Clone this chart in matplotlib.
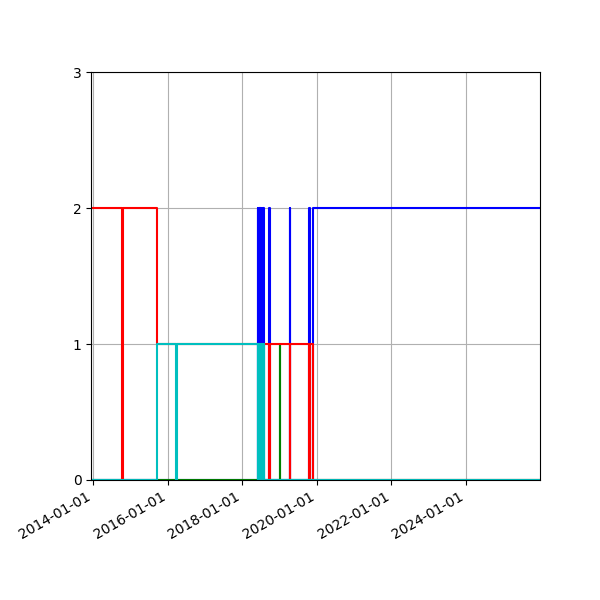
import pandas as pd
import matplotlib
matplotlib.use("Agg")
import matplotlib.pyplot as plt
import matplotlib.dates as mdates

# state series (step changes)
block_dates = ["2018-06-02", "2018-06-06", "2018-06-10", "2018-06-14", "2018-06-18", "2018-06-22",
               "2018-06-26", "2018-06-30", "2018-07-04", "2018-07-08", "2018-07-12", "2018-07-16",
               "2018-07-20", "2018-07-24", "2018-07-27", "2018-07-31"]

blue_dates = ["2013-12-15"] + block_dates + ["2018-09-21", "2018-09-27", "2019-04-14", "2019-04-16",
                                             "2019-10-20", "2019-10-22", "2019-11-22", "2025-12-25"]
blue_vals = [0] + [2, 0] * 8 + [2, 0, 2, 0, 2, 0, 2, 2]

green_dates = ["2013-12-15", "2019-01-05", "2019-01-09", "2025-12-25"]
green_vals = [0, 1, 0, 0]

red_dates = ["2013-12-15", "2014-10-16", "2014-10-26", "2015-09-22", "2018-09-17", "2018-09-30",
             "2019-04-14", "2019-04-16", "2019-10-20", "2019-10-22", "2019-11-23", "2025-12-25"]
red_vals = [2, 0, 2, 1, 0, 1, 0, 1, 0, 1, 0, 0]

cyan_dates = ["2013-12-15", "2015-09-22", "2016-03-22", "2016-03-29"] + block_dates + ["2018-08-05", "2025-12-25"]
cyan_vals = [0, 1, 0, 1] + [0, 1] * 8 + [0, 0]

series = [(blue_dates, blue_vals, "b"), (green_dates, green_vals, "g"),
          (red_dates, red_vals, "r"), (cyan_dates, cyan_vals, "c")]

fig, ax = plt.subplots(figsize=(6, 6), dpi=100)
for d, v, c in series:
    ax.step(pd.to_datetime(d), v, where="post", color=c, linewidth=1.5)

ax.set_xlim(pd.Timestamp("2013-12-15"), pd.Timestamp("2025-12-25"))
ax.set_ylim(0, 3)
ax.set_yticks([0, 1, 2, 3])
ax.xaxis.set_major_locator(mdates.YearLocator(2))
ax.xaxis.set_major_formatter(mdates.DateFormatter("%Y-%m-%d"))
ax.grid(True)
ax.set_axisbelow(True)
fig.autofmt_xdate()
fig.subplots_adjust(left=0.152, right=0.9, top=0.88, bottom=0.2)

plt.savefig("out.png")
